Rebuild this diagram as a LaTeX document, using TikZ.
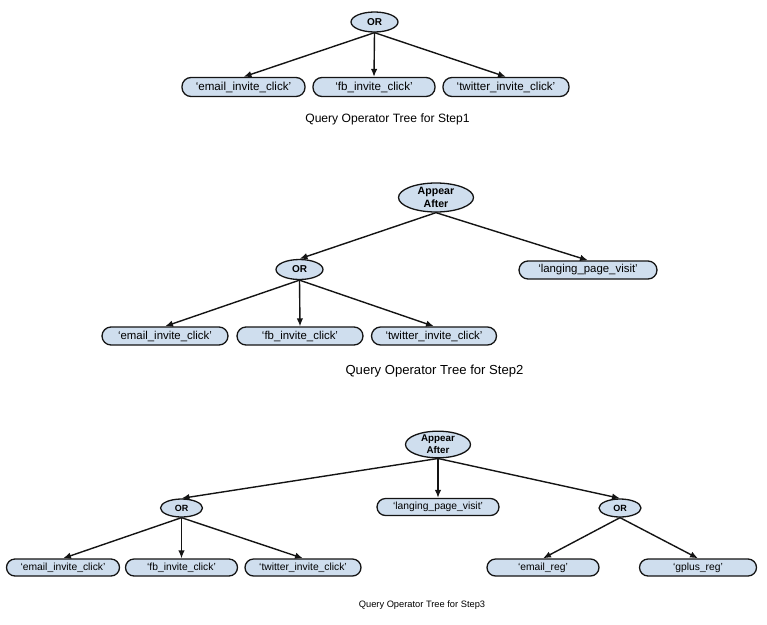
\documentclass[tikz,border=0pt]{standalone}
\usepackage{fontspec}
\setmainfont{Liberation Sans}
\usetikzlibrary{shapes.geometric,arrows.meta}
\definecolor{nodefill}{RGB}{207,222,238}
\definecolor{linec}{RGB}{20,20,20}
\begin{document}
\begin{tikzpicture}[x=1pt,y=-1pt,
  leaf/.style={draw=linec, fill=nodefill, line width=1.3pt, rounded corners=9pt, minimum height=19pt, inner sep=0pt},
  op/.style={ellipse, draw=linec, fill=nodefill, line width=1.3pt, inner sep=0pt, align=center},
  edge/.style={draw=linec, line width=1.4pt, -{Latex[length=8pt,width=6.5pt]}},
  caption/.style={inner sep=0pt}]
\useasboundingbox (0,0) rectangle (767,624);
% ---------- Step 1 ----------
\node[op, minimum width=47, minimum height=20, font=\bfseries\fontsize{10}{12}\selectfont] (s1or) at (374.5,22) {OR};
\begin{scope}[every node/.append style={font=\fontsize{11.6}{13}\selectfont}]
\node[leaf, minimum width=123] (s1a) at (243.5,87) {‘email\_invite\_click’};
\node[leaf, minimum width=122] (s1b) at (374,87) {‘fb\_invite\_click’};
\node[leaf, minimum width=126] (s1c) at (506,87) {‘twitter\_invite\_click’};
\node[caption, font=\fontsize{12.1}{14}\selectfont] (cap1) at (387.5,119) {Query Operator Tree for Step1};
\end{scope}
\draw[edge] (s1or.south) -- (s1a.north);
\draw[edge] (s1or.south) -- (s1b.north);
\draw[edge] (s1or.south) -- (s1c.north);
% ---------- Step 2 ----------
\node[op, minimum width=75, minimum height=29, font=\bfseries\fontsize{10.6}{13}\selectfont] (s2aa) at (436,197.5) {Appear\\After};
\node[op, minimum width=47, minimum height=20, font=\bfseries\fontsize{10}{12}\selectfont] (s2or) at (299.5,269.5) {OR};
\begin{scope}[every node/.append style={font=\fontsize{11.4}{13}\selectfont}]
\node[leaf, minimum width=138, minimum height=18] (s2lp) at (588,270) {‘langing\_page\_visit’};
\node[leaf, minimum width=126, minimum height=18] (s2a) at (165,336) {‘email\_invite\_click’};
\node[leaf, minimum width=126, minimum height=18] (s2b) at (300,336) {‘fb\_invite\_click’};
\node[leaf, minimum width=125, minimum height=18] (s2c) at (434,336) {‘twitter\_invite\_click’};
\node[caption, font=\fontsize{13.1}{15}\selectfont] (cap2) at (434.5,371.5) {Query Operator Tree for Step2};
\end{scope}
\draw[edge] (s2aa.south) -- (s2or.north);
\draw[edge] (s2aa.south) -- (s2lp.north);
\draw[edge] (s2or.south) -- (s2a.north);
\draw[edge] (s2or.south) -- (s2b.north);
\draw[edge] (s2or.south) -- (s2c.north);
% ---------- Step 3 ----------
\node[op, minimum width=65, minimum height=26, font=\bfseries\fontsize{9.8}{12}\selectfont] (s3aa) at (438,444.5) {Appear\\After};
\node[op, minimum width=42, minimum height=18, font=\bfseries\fontsize{9}{11}\selectfont] (s3orl) at (181.5,508) {OR};
\node[op, minimum width=42, minimum height=18, font=\bfseries\fontsize{9}{11}\selectfont] (s3orr) at (620,508) {OR};
\begin{scope}[every node/.append style={font=\fontsize{10.3}{12}\selectfont}]
\node[leaf, minimum width=122, minimum height=17, rounded corners=8.5pt] (s3lp) at (438,507) {‘langing\_page\_visit’};
\node[leaf, minimum width=113, minimum height=17, rounded corners=8.5pt] (s3a) at (63,567.5) {‘email\_invite\_click’};
\node[leaf, minimum width=112, minimum height=17, rounded corners=8.5pt] (s3b) at (181.5,567.5) {‘fb\_invite\_click’};
\node[leaf, minimum width=116, minimum height=17, rounded corners=8.5pt] (s3c) at (303,567.5) {‘twitter\_invite\_click’};
\node[leaf, minimum width=112, minimum height=17, rounded corners=8.5pt] (s3d) at (543,567.5) {‘email\_reg’};
\node[leaf, minimum width=117, minimum height=17, rounded corners=8.5pt] (s3e) at (698,567.5) {‘gplus\_reg’};
\node[caption, font=\fontsize{9.3}{11}\selectfont] (cap3) at (422,605) {Query Operator Tree for Step3};
\end{scope}
\draw[edge] (s3aa.south) -- (s3orl.north);
\draw[edge] (s3aa.south) -- (s3lp.north);
\draw[edge] (s3aa.south) -- (s3orr.north);
\draw[edge] (s3orl.south) -- (s3a.north);
\draw[edge] (s3orl.south) -- (s3b.north);
\draw[edge] (s3orl.south) -- (s3c.north);
\draw[edge] (s3orr.south) -- (s3d.north);
\draw[edge] (s3orr.south) -- (s3e.north);
\end{tikzpicture}
\end{document}
